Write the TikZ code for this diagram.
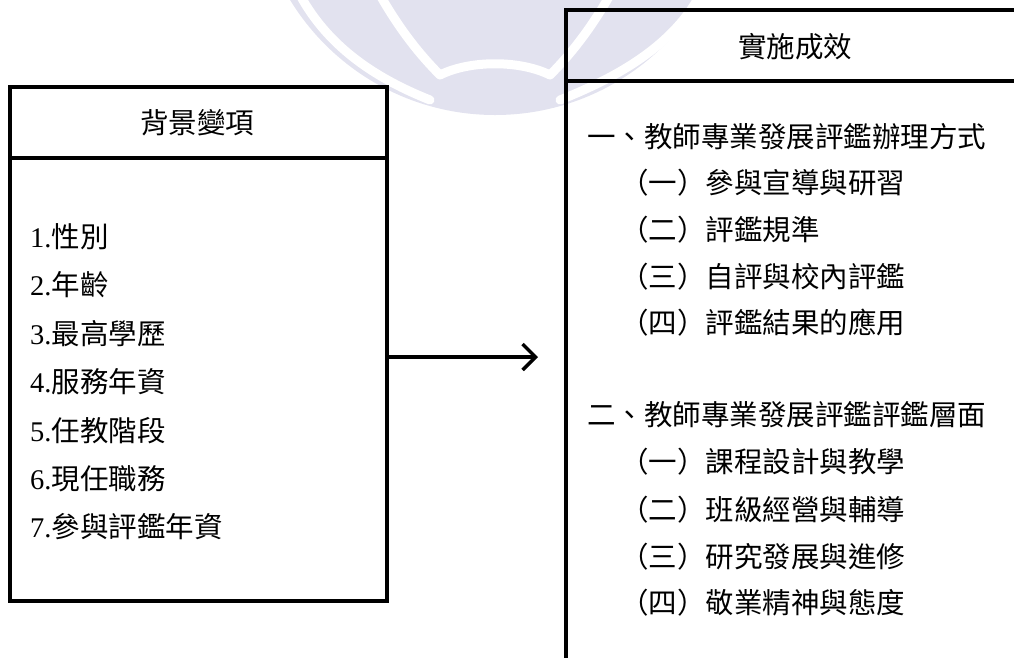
\documentclass[tikz,border=0pt]{standalone}
\usepackage{fontspec}
\setmainfont{Liberation Serif}
\newfontfamily\cjk{Noto Sans CJK TC}
\usetikzlibrary{arrows.meta}
\definecolor{wm}{RGB}{226,226,239}
\begin{document}
\begin{tikzpicture}[x=1pt,y=-1pt,
  boxline/.style={line width=3.5pt},
  txt/.style={font=\fontsize{28.5pt}{30pt}\selectfont\cjk, inner sep=0pt,
    text height=25pt, text depth=3.4pt},
  item/.style={txt, anchor=west},
  conn/.style={line width=3.5pt, line cap=round, line join=round,
    -{Straight Barb[length=13pt,width=26pt,line width=3.5pt]}},
  wmstroke/.style={white, line width=9pt, line cap=round}]
\useasboundingbox (0,0) rectangle (1014,657);
% faint watermark
\begin{scope}
\clip (0,0) rectangle (1014,657);
\fill[wm] (495,-125) circle[radius=240];
\draw[wmstroke] (300,-5) .. controls (330,50) and (380,80) .. (430,100);
\draw[wmstroke] (700,-5) .. controls (670,50) and (610,80) .. (560,100);
\draw[wmstroke] (380,-5) .. controls (400,30) and (420,55) .. (440,75);
\draw[wmstroke] (610,-5) .. controls (590,30) and (570,55) .. (550,75);
\draw[wmstroke] (440,75) .. controls (470,60) and (520,60) .. (550,75);
\end{scope}
% left box
\node[boxline, draw, minimum width=377pt, minimum height=514pt, inner sep=0pt] (lbox) at (198.5,344) {};
\draw[boxline] (lbox.west |- 0,158) -- (lbox.east |- 0,158);
\node[txt] (lhead) at (197,123) {背景變項};
\node[item] (l1) at (30,237) {\rmfamily 1.\cjk 性別};
\node[item] (l2) at (30,285) {\rmfamily 2.\cjk 年齡};
\node[item] (l3) at (30,334) {\rmfamily 3.\cjk 最高學歷};
\node[item] (l4) at (30,382) {\rmfamily 4.\cjk 服務年資};
\node[item] (l5) at (30,431) {\rmfamily 5.\cjk 任教階段};
\node[item] (l6) at (30,479) {\rmfamily 6.\cjk 現任職務};
\node[item] (l7) at (30,527) {\rmfamily 7.\cjk 參與評鑑年資};
% right box
\draw[boxline] (1020,10) -- (566,10) -- (566,665);
\draw[boxline] (566,81) -- (1020,81);
\node[txt] (rhead) at (795,47) {實施成效};
\node[item] (r1) at (587,137) {一、教師專業發展評鑑辦理方式};
\node[item] (r11) at (620,183) {（一）參與宣導與研習};
\node[item] (r12) at (620,230) {（二）評鑑規準};
\node[item] (r13) at (620,277) {（三）自評與校內評鑑};
\node[item] (r14) at (620,323) {（四）評鑑結果的應用};
\node[item] (r2) at (587,415) {二、教師專業發展評鑑評鑑層面};
\node[item] (r21) at (620,462) {（一）課程設計與教學};
\node[item] (r22) at (620,510) {（二）班級經營與輔導};
\node[item] (r23) at (620,557) {（三）研究發展與進修};
\node[item] (r24) at (620,603) {（四）敬業精神與態度};
% connector
\coordinate (tip) at (538,357);
\draw[conn] (lbox.east |- tip) -- (tip);
\end{tikzpicture}
\end{document}
